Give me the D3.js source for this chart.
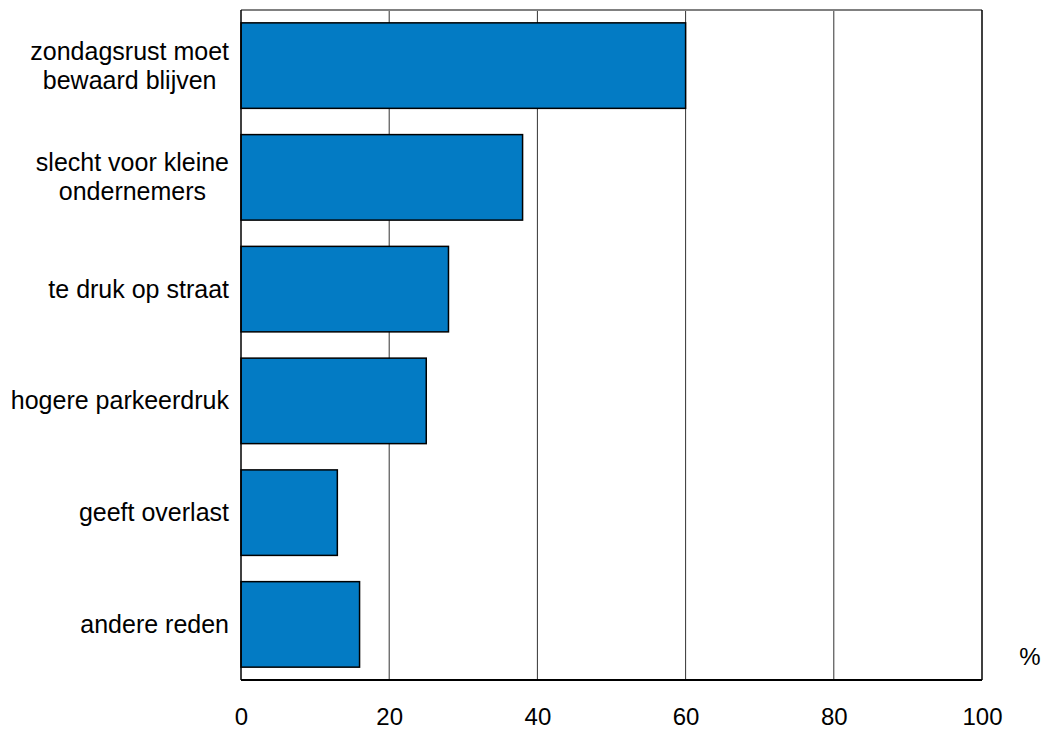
<!DOCTYPE html>
<html>
<head>
<meta charset="utf-8">
<script src="https://cdn.jsdelivr.net/npm/d3@7"></script>
<style>
  body { margin: 0; background: #fff; }
  text { font-family: "Liberation Sans", Arial, sans-serif; fill: #000; }
</style>
</head>
<body>
<div id="chart"></div>
<script>
// Data
const categories = [
    ['zondagsrust moet', 'bewaard blijven'],
    ['slecht voor kleine', 'ondernemers'],
    ['te druk op straat'],
    ['hogere parkeerdruk'],
    ['geeft overlast'],
    ['andere reden']
];
const values = [60, 38, 28, 25, 13, 16];
const xTicks = [0, 20, 40, 60, 80, 100];
const unitLabel = '%';

// Layout
const config = {
    width: 1045,
    height: 729,
    left: 241,
    right: 982,
    top: 10,
    bottom: 680,
    barColor: '#037bc4'
};

const svg = d3.select('#chart')
    .append('svg')
    .attr('width', config.width)
    .attr('height', config.height);

const x = d3.scaleLinear().domain([0, 100]).range([config.left, config.right]);
const y = d3.scaleBand()
    .domain(d3.range(categories.length))
    .range([config.top, config.bottom])
    .paddingInner(0.235)
    .paddingOuter(0.115);

// Gridlines
svg.append('g')
    .selectAll('line')
    .data(xTicks.filter(t => t > 0 && t < 100))
    .join('line')
    .attr('x1', d => x(d)).attr('x2', d => x(d))
    .attr('y1', config.top).attr('y2', config.bottom)
    .attr('stroke', '#333')
    .attr('stroke-width', 1);

// Top and right frame
svg.append('line')
    .attr('x1', config.left).attr('x2', config.right)
    .attr('y1', config.top).attr('y2', config.top)
    .attr('stroke', '#808080').attr('stroke-width', 2);
svg.append('line')
    .attr('x1', config.right).attr('x2', config.right)
    .attr('y1', config.top).attr('y2', config.bottom)
    .attr('stroke', '#000').attr('stroke-width', 1.5);

// Bars
svg.append('g')
    .selectAll('rect')
    .data(values)
    .join('rect')
    .attr('x', x(0))
    .attr('y', (d, i) => y(i))
    .attr('width', d => x(d) - x(0))
    .attr('height', y.bandwidth())
    .attr('fill', config.barColor)
    .attr('stroke', '#000')
    .attr('stroke-width', 1.5);

// Axes lines
svg.append('line')
    .attr('x1', config.left).attr('x2', config.left)
    .attr('y1', config.top).attr('y2', config.bottom)
    .attr('stroke', '#000').attr('stroke-width', 1.5);
svg.append('line')
    .attr('x1', config.left).attr('x2', config.right)
    .attr('y1', config.bottom).attr('y2', config.bottom)
    .attr('stroke', '#000').attr('stroke-width', 2);

// X tick labels
const xAxis = svg.append('g')
    .attr('transform', `translate(0,${config.bottom})`)
    .call(d3.axisBottom(x).tickValues(xTicks).tickSize(0).tickPadding(0).tickFormat(d3.format('d')));
xAxis.select('.domain').remove();
xAxis.selectAll('text')
    .attr('y', 45)
    .attr('dy', 0)
    .attr('font-size', 24)
    .attr('font-family', '"Liberation Sans", Arial, sans-serif')
    .attr('fill', '#000');

svg.append('text')
    .attr('x', 1030)
    .attr('y', 665)
    .attr('text-anchor', 'middle')
    .attr('font-size', 24)
    .text(unitLabel);

// Category labels: block right-aligned, lines centred within it
const lineHeight = 29;
const labelRight = config.left - 12;
categories.forEach((lines, i) => {
    const cy = y(i) + y.bandwidth() / 2;
    const g = svg.append('g');
    const texts = g.selectAll('text')
        .data(lines)
        .join('text')
        .attr('font-size', 25)
        .attr('y', (d, j) => cy + 8.5 + (j - (lines.length - 1) / 2) * lineHeight)
        .text(d => d);
    const widths = texts.nodes().map(n => n.getComputedTextLength());
    const maxW = d3.max(widths);
    const centre = labelRight - maxW / 2;
    texts.attr('x', centre).attr('text-anchor', 'middle');
});
</script>
</body>
</html>
